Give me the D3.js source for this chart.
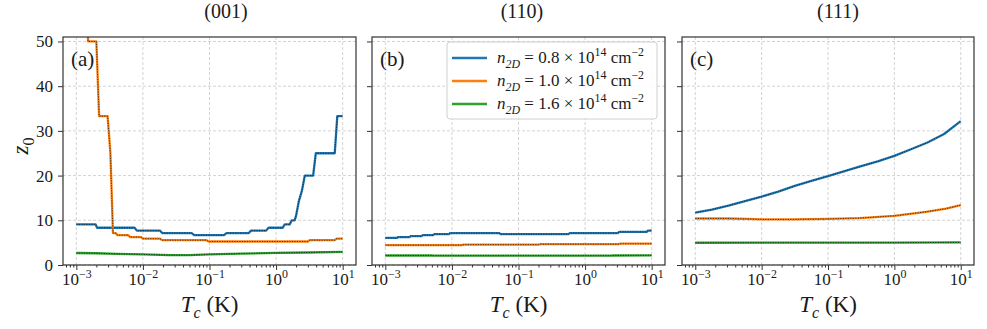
<!DOCTYPE html>
<html>
<head>
<meta charset="utf-8">
<script src="https://cdn.jsdelivr.net/npm/d3@7"></script>
<style>
  body { margin: 0; background: #fff; }
</style>
</head>
<body>
<div id="chart"></div>
<script>
// panel titles, letters and legend labels
const panelTitles = ["(001)", "(110)", "(111)"];
const panelLetters = ["(a)", "(b)", "(c)"];
const densities = ["0.8", "1.0", "1.6"];
const colors = ["#1f77b4", "#ff7f0e", "#2ca02c"];
const yTicks = [0, 10, 20, 30, 40, 50];
const xTicks = [1e-3, 1e-2, 1e-1, 1e0, 1e1];
const xExp = ["−3", "−2", "−1", "0", "1"];

// (001): [Tc (K), z0]
const z001_n08 = [[1e-3, 9.09], [1.95e-3, 9.09], [2.05e-3, 8.33], [7.5e-3, 8.33], [8.1e-3, 7.69],
  [1.8e-2, 7.69], [1.95e-2, 7.14], [5.4e-2, 7.14], [5.9e-2, 6.67], [0.165, 6.67], [0.18, 7.14],
  [0.39, 7.14], [0.42, 7.69], [0.71, 7.69], [0.77, 8.33], [1.25, 8.33], [1.35, 9.09],
  [1.6, 9.09], [1.72, 10.0], [1.9, 10.0], [2.0, 11.1], [2.2, 14.3], [2.45, 16.7], [2.7, 20.0],
  [3.6, 20.0], [3.95, 25.0], [7.6, 25.0], [8.3, 33.3], [10, 33.3]];
const z001_n10 = [[1e-3, 100], [1.45e-3, 100], [1.5e-3, 50], [2.0e-3, 50], [2.2e-3, 33.3],
  [2.95e-3, 33.3], [3.25e-3, 25.0], [3.55e-3, 7.14], [3.9e-3, 7.14], [4.15e-3, 6.67],
  [6.0e-3, 6.67], [6.4e-3, 6.25], [9.4e-3, 6.25], [1.0e-2, 5.88], [1.8e-2, 5.88], [1.95e-2, 5.56],
  [9.0e-2, 5.56], [9.7e-2, 5.26], [3.0, 5.26], [3.2, 5.56], [7.6, 5.56], [8.1, 5.88], [10, 5.88]];
const z001_n16 = [[1e-3, 2.68], [2e-3, 2.63], [4e-3, 2.5], [1e-2, 2.38], [2.5e-2, 2.2], [5e-2, 2.2],
  [0.1, 2.38], [0.3, 2.56], [1, 2.7], [3, 2.8], [10, 2.94]];

// (110)
const z110_n08 = [[1e-3, 6.06], [1.5e-3, 6.06], [1.55e-3, 6.25], [2.3e-3, 6.25], [2.4e-3, 6.45],
  [3.5e-3, 6.45], [3.65e-3, 6.67], [5.2e-3, 6.67], [5.45e-3, 6.9], [9.0e-3, 6.9], [9.4e-3, 7.14],
  [5.1e-2, 7.14], [5.4e-2, 6.9], [0.56, 6.9], [0.59, 7.14], [3.1, 7.14], [3.25, 7.41],
  [8.4, 7.41], [8.8, 7.69], [10, 7.69]];
const z110_n10 = [[1e-3, 4.44], [1.4e-2, 4.44], [1.5e-2, 4.55], [0.2, 4.55], [0.215, 4.65],
  [3.2, 4.65], [3.4, 4.76], [10, 4.76]];
const z110_n16 = [[1e-3, 2.13], [5e-3, 2.13], [5.3e-3, 2.08], [2.5, 2.08], [2.65, 2.13], [10, 2.17]];

// (111)
const z111_n08 = [[1e-3, 11.7], [1.78e-3, 12.4], [3.16e-3, 13.3], [5.62e-3, 14.3], [1e-2, 15.3],
  [1.78e-2, 16.4], [3.16e-2, 17.7], [5.62e-2, 18.8], [0.1, 19.9], [0.178, 21.0], [0.316, 22.1],
  [0.562, 23.2], [1, 24.4], [1.78, 25.9], [3.16, 27.4], [5.62, 29.3], [10, 32.2]];
const z111_n10 = [[1e-3, 10.4], [3e-3, 10.4], [6e-3, 10.3], [1e-2, 10.2], [3e-2, 10.2], [0.1, 10.3],
  [0.3, 10.5], [1, 11.0], [3, 11.9], [6, 12.6], [10, 13.4]];
const z111_n16 = [[1e-3, 4.98], [1, 5.0], [10, 5.05]];

const panelSeries = [
  [z001_n08, z001_n10, z001_n16],
  [z110_n08, z110_n10, z110_n16],
  [z111_n08, z111_n10, z111_n16]
];

const width = 987, height = 329;
const lefts = [63, 372, 682], rights = [356, 665, 974];
const titleX = [226, 522, 838];
const plotTop = 37, plotBottom = 265;
const serif = "'Liberation Serif', 'DejaVu Serif', 'Times New Roman', serif";

const svg = d3.select("#chart").append("svg")
  .attr("width", width).attr("height", height)
  .attr("font-family", serif);

// text with sub/superscripts, parts: {t, i (italic), s ("sup"/"sub")}
function richText(sel, parts, size) {
  let cur = 0;
  sel.attr("font-family", serif);
  parts.forEach(p => {
    const shift = p.s === "sup" ? -0.42 * size : p.s === "sub" ? 0.28 * size : 0;
    sel.append("tspan")
      .attr("dy", shift - cur)
      .attr("font-size", p.s ? size * 0.7 : size)
      .attr("font-style", p.i ? "italic" : null)
      .text(p.t);
    cur = shift;
  });
}

panelSeries.forEach((series, pi) => {
  const x = d3.scaleLog()
    .domain([Math.pow(10, -3.2), Math.pow(10, 1.2)])
    .range([lefts[pi], rights[pi]]);
  const y = d3.scaleLinear().domain([0, 51]).range([plotBottom, plotTop]);
  const g = svg.append("g");

  g.append("clipPath").attr("id", "clip" + pi)
    .append("rect")
    .attr("x", lefts[pi]).attr("y", plotTop)
    .attr("width", rights[pi] - lefts[pi]).attr("height", plotBottom - plotTop);

  // grid
  g.selectAll(".gx").data(xTicks).join("line")
    .attr("x1", d => x(d)).attr("x2", d => x(d))
    .attr("y1", plotTop).attr("y2", plotBottom)
    .attr("stroke", "#c8c8c8").attr("stroke-width", 0.8).attr("stroke-dasharray", "3,2");
  g.selectAll(".gy").data(yTicks).join("line")
    .attr("x1", lefts[pi]).attr("x2", rights[pi])
    .attr("y1", d => y(d)).attr("y2", d => y(d))
    .attr("stroke", "#c8c8c8").attr("stroke-width", 0.8).attr("stroke-dasharray", "3,2");

  // curves
  const line = d3.line().x(d => x(d[0])).y(d => y(d[1]));
  const curves = g.append("g").attr("clip-path", `url(#clip${pi})`);
  series.forEach((s, si) => {
    curves.append("path").datum(s)
      .attr("d", line).attr("fill", "none")
      .attr("stroke", colors[si]).attr("stroke-width", 2.3)
      .attr("stroke-linejoin", "round");
    curves.append("path").datum(s)
      .attr("d", line).attr("fill", "none")
      .attr("stroke", "#111").attr("stroke-width", 1)
      .attr("stroke-opacity", 0.75)
      .attr("stroke-dasharray", "1.2,1.3");
  });

  // x axis: major and minor ticks
  const minor = x.ticks().filter(t => !xTicks.some(m => Math.abs(m - t) / m < 1e-9));
  g.append("g").attr("transform", `translate(0,${plotBottom})`)
    .call(d3.axisBottom(x).tickValues(minor).tickSize(2.5).tickFormat(() => ""))
    .call(a => a.select(".domain").remove())
    .selectAll("line").attr("stroke", "#333");
  const xa = g.append("g").attr("transform", `translate(0,${plotBottom})`)
    .call(d3.axisBottom(x).tickValues(xTicks).tickSize(5).tickFormat(() => ""));
  xa.select(".domain").remove();
  xa.selectAll("line").attr("stroke", "#333");
  xa.selectAll(".tick").each(function(d, i) {
    const t = d3.select(this).append("text")
      .attr("x", 0).attr("y", 20)
      .attr("text-anchor", "middle").attr("fill", "#1a1a1a");
    richText(t, [{ t: "10" }, { t: xExp[i], s: "sup" }], 17);
  });

  // y axis
  const ya = g.append("g").attr("transform", `translate(${lefts[pi]},0)`)
    .call(d3.axisLeft(y).tickValues(yTicks).tickSize(5).tickPadding(6)
      .tickFormat(pi === 0 ? d3.format("d") : () => ""));
  ya.attr("font-family", serif);
  ya.select(".domain").remove();
  ya.selectAll("line").attr("stroke", "#333");
  ya.selectAll("text").attr("fill", "#1a1a1a").attr("font-size", 17)
    .attr("x", -10);

  // frame
  g.append("rect")
    .attr("x", lefts[pi]).attr("y", plotTop)
    .attr("width", rights[pi] - lefts[pi]).attr("height", plotBottom - plotTop)
    .attr("fill", "none").attr("stroke", "#333").attr("stroke-width", 1.2);

  // title, panel letter, x label
  svg.append("text").attr("x", titleX[pi]).attr("y", 18)
    .attr("text-anchor", "middle").attr("font-size", 20).attr("fill", "#1a1a1a")
    .text(panelTitles[pi]);
  svg.append("text").attr("x", lefts[pi] + 8).attr("y", 66)
    .attr("font-size", 21).attr("fill", "#1a1a1a").text(panelLetters[pi]);
  const xl = svg.append("text")
    .attr("x", (lefts[pi] + rights[pi]) / 2).attr("y", 312)
    .attr("text-anchor", "middle").attr("fill", "#1a1a1a");
  richText(xl, [{ t: "T", i: true }, { t: "c", i: true, s: "sub" }, { t: " (K)" }], 23);
});

// y label
const yl = svg.append("text")
  .attr("transform", "translate(28,146) rotate(-90)")
  .attr("text-anchor", "middle").attr("fill", "#1a1a1a");
richText(yl, [{ t: "z", i: true }, { t: "0", s: "sub" }], 23);

// legend in panel (b)
const lg = svg.append("g");
lg.append("rect")
  .attr("x", 447).attr("y", 42).attr("width", 210).attr("height", 77)
  .attr("rx", 3).attr("fill", "#fff").attr("fill-opacity", 0.85)
  .attr("stroke", "#d0d0d0").attr("stroke-width", 1);
densities.forEach((n, i) => {
  const yy = 58 + i * 23;
  lg.append("line")
    .attr("x1", 452).attr("x2", 487).attr("y1", yy).attr("y2", yy)
    .attr("stroke", colors[i]).attr("stroke-width", 2.3);
  const t = lg.append("text").attr("x", 497).attr("y", yy + 5).attr("fill", "#1a1a1a");
  richText(t, [
    { t: "n", i: true }, { t: "2D", i: true, s: "sub" },
    { t: " = " + n + " × 10" }, { t: "14", s: "sup" },
    { t: " cm" }, { t: "−2", s: "sup" }
  ], 17);
});
</script>
</body>
</html>
